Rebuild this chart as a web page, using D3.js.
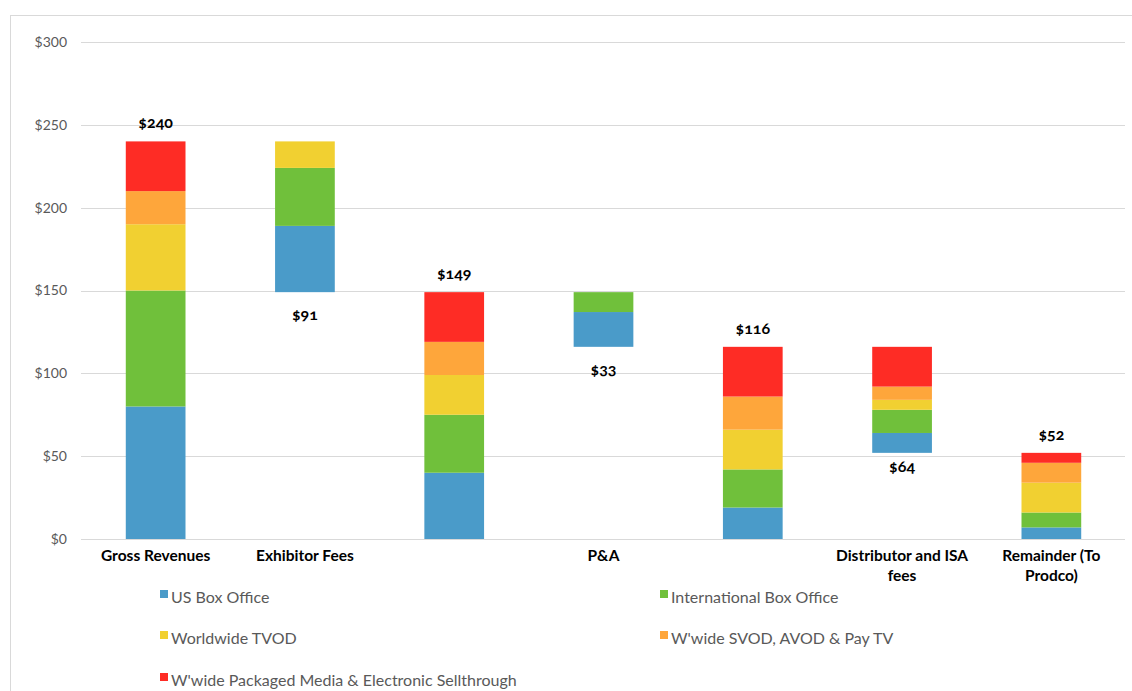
<!DOCTYPE html>
<html>
<head>
<meta charset="utf-8">
<script src="https://cdn.jsdelivr.net/npm/d3@7"></script>
<style>
  html, body { margin: 0; padding: 0; background: #fff; }
  svg { display: block; font-family: Lato, "Open Sans", sans-serif; }
</style>
</head>
<body>
<svg id="chart" width="1132" height="691"></svg>
<script>
// Film revenue waterfall: each column is stacked by revenue stream ($M)
const categories = ["Gross Revenues", "Exhibitor Fees", "", "P&A", "", "Distributor and ISA fees", "Remainder (To Prodco)"];
const base = [0, 149, 0, 116, 0, 52, 0];               // floating offset of each column
const usBoxOffice   = [80, 40, 40, 21, 19, 12, 7];
const intlBoxOffice = [70, 35, 35, 12, 23, 14, 9];
const worldwideTVOD = [40, 16, 24, 0, 24, 6, 18];
const wwSvodAvodPay = [20, 0, 20, 0, 20, 8, 12];
const wwPackaged    = [30, 0, 30, 0, 30, 24, 6];
const labelSide = ["above", "below", "above", "below", "above", "below", "above"];
const yTicks = [0, 50, 100, 150, 200, 250, 300];

const series = [
  { name: "US Box Office", values: usBoxOffice, color: "#4a9bc9" },
  { name: "International Box Office", values: intlBoxOffice, color: "#70c03b" },
  { name: "Worldwide TVOD", values: worldwideTVOD, color: "#f1d031" },
  { name: "W'wide SVOD, AVOD & Pay TV", values: wwSvodAvodPay, color: "#fea63b" },
  { name: "W'wide Packaged Media & Electronic Sellthrough", values: wwPackaged, color: "#fe2c25" }
];

const svg = d3.select("#chart");

// outer chart frame
svg.append("rect")
  .attr("x", 10.5).attr("y", 15.5)
  .attr("width", 1130).attr("height", 690)
  .attr("fill", "none").attr("stroke", "#d9d9d9").attr("stroke-width", 1);

const plot = { left: 81, right: 1126, top: 42, bottom: 539 };

const x = d3.scaleBand()
  .domain(d3.range(categories.length))
  .range([plot.left, plot.right])
  .paddingInner(0.6)
  .paddingOuter(0.3);

const y = d3.scaleLinear().domain([0, 300]).range([plot.bottom, plot.top]);

// gridlines
svg.append("g")
  .selectAll("line")
  .data(yTicks)
  .join("line")
  .attr("x1", plot.left).attr("x2", plot.right - 1)
  .attr("y1", d => Math.round(y(d)) + 0.5).attr("y2", d => Math.round(y(d)) + 0.5)
  .attr("stroke", "#d9d9d9").attr("stroke-width", 1.2);

// y axis labels
const yAxis = d3.axisLeft(y).tickValues(yTicks).tickSize(0).tickPadding(14)
  .tickFormat(d => "$" + d);
svg.append("g")
  .attr("transform", `translate(${plot.left},0)`)
  .call(yAxis)
  .call(g => g.select(".domain").remove())
  .call(g => g.selectAll("text")
    .attr("fill", "#595959")
    .style("font-size", "14px")
    .style("font-family", "Lato, sans-serif"));

// stacked segments
const stack = categories.map((c, i) => {
  let acc = base[i];
  return series.map(s => {
    const seg = { i, y0: acc, y1: acc + s.values[i], color: s.color };
    acc += s.values[i];
    return seg;
  }).filter(d => d.y1 > d.y0);
});

svg.append("g")
  .selectAll("rect")
  .data(stack.flat())
  .join("rect")
  .attr("x", d => x(d.i))
  .attr("width", x.bandwidth())
  .attr("y", d => y(d.y1))
  .attr("height", d => y(d.y0) - y(d.y1))
  .attr("fill", d => d.color);

// value labels; the label under a short floating column sits a little closer
const totals = categories.map((c, i) => d3.sum(series, s => s.values[i]));
const belowGap = i => (totals[i] < 80 && base[i] < 100 ? 19 : 28);
svg.append("g")
  .selectAll("text")
  .data(totals)
  .join("text")
  .attr("x", (d, i) => x(i) + x.bandwidth() / 2)
  .attr("y", (d, i) => labelSide[i] === "above"
    ? y(base[i] + d) - 13
    : y(base[i]) + belowGap(i))
  .attr("text-anchor", "middle")
  .style("font-size", "16px")
  .style("font-weight", "bold")
  .style("font-variant-numeric", "oldstyle-nums")
  .attr("fill", "#000")
  .text(d => "$" + d);

// category labels, wrapped to the band
const catG = svg.append("g");
categories.forEach((c, i) => {
  const cx = x(i) + x.bandwidth() / 2;
  const t = catG.append("text")
    .attr("x", cx)
    .attr("y", 561)
    .attr("text-anchor", "middle")
    .style("font-size", "15.5px")
    .style("font-weight", "bold")
    .attr("fill", "#000");
  const words = c.split(" ").filter(w => w.length);
  let line = [];
  let tspan = t.append("tspan").attr("x", cx).attr("dy", 0);
  words.forEach(w => {
    line.push(w);
    tspan.text(line.join(" "));
    if (tspan.node().getComputedTextLength() > 140 && line.length > 1) {
      line.pop();
      tspan.text(line.join(" "));
      line = [w];
      tspan = t.append("tspan").attr("x", cx).attr("dy", 20).text(w);
    }
  });
});

// legend in two columns
const legendCols = [160, 660];
const legendRows = [597, 638, 680];
const legend = svg.append("g")
  .selectAll("g")
  .data(series)
  .join("g")
  .attr("transform", (d, i) => `translate(${legendCols[i % 2]},${legendRows[Math.floor(i / 2)]})`);
legend.append("rect")
  .attr("x", 0).attr("y", -7)
  .attr("width", 8).attr("height", 8)
  .attr("fill", d => d.color);
legend.append("text")
  .attr("x", 11).attr("y", 5.5)
  .style("font-size", "16px")
  .attr("fill", "#595959")
  .text(d => d.name);
</script>
</body>
</html>
